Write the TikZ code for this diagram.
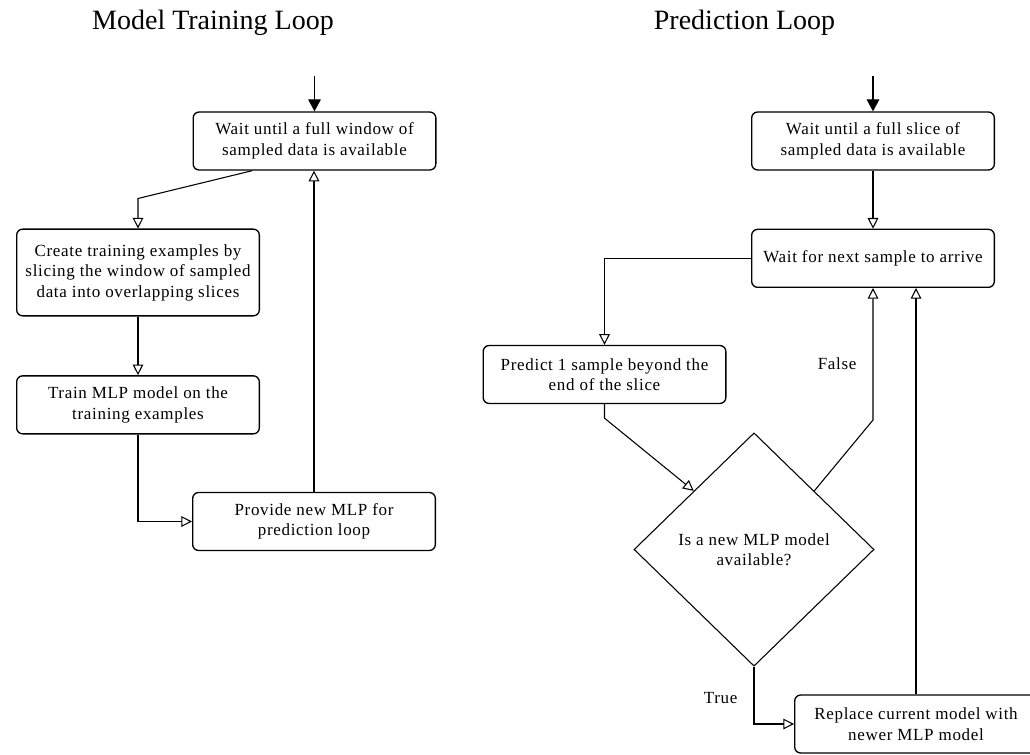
\documentclass[tikz,border=0pt]{standalone}
\usepackage{fontspec}
\setmainfont{Liberation Serif}
\newfontfamily\boxfont[LetterSpace=4]{Liberation Serif}
\usepackage{tikz}
\usetikzlibrary{arrows.meta, calc, positioning, shapes.geometric}

\begin{document}
\begin{tikzpicture}[x=0.75pt, y=-0.75pt,
  box/.style={draw, line width=1pt, rounded corners=4.5pt, fill=white,
              minimum width=182pt, minimum height=43.5pt, align=center, inner sep=2pt,
              font=\boxfont\fontsize{12.75}{15.4}\selectfont},
  decide/.style={diamond, draw, line width=0.8pt, minimum width=180pt, minimum height=175pt,
                 align=center, inner sep=0pt, font=\boxfont\fontsize{12.75}{15.4}\selectfont},
  title/.style={font=\fontsize{21}{25}\selectfont, anchor=base},
  lbl/.style={font=\boxfont\fontsize{12.75}{15.4}\selectfont, inner sep=0pt},
  arr/.style={-{Triangle[open, length=8pt, width=8pt]}, line width=0.8pt},
  inarr/.style={-{Triangle[length=9pt, width=9.5pt]}, line width=0.8pt}]
  \useasboundingbox (0,0) rectangle (1030,755);
  % titles
  \node[title] (ttrain) at (213,30) {Model Training Loop};
  \node[title] (tpred) at (744.5,30) {Prediction Loop};
  % training loop
  \node[box] (a) at (314.5,141) {Wait until a full window of\\sampled data is available};
  \node[box, minimum height=65pt] (b) at (138,272.5) {Create training examples by\\slicing the window of sampled\\data into overlapping slices};
  \node[box, below=44pt of b] (c) {Train MLP model on the\\training examples};
  \node[box] (d) at (314,521.5) {Provide new MLP for\\prediction loop};
  % prediction loop
  \node[box] (e) at (873,141) {Wait until a full slice of\\sampled data is available};
  \node[box, below=43.5pt of e] (f) {Wait for next sample to arrive};
  \node[box] (g) at (604.5,374.5) {Predict 1 sample beyond the\\end of the slice};
  \node[decide] (h) at (754,549.5) {Is a new MLP model\\available?};
  \node[box] (i) at (916,724) {Replace current model with\\newer MLP model};
  \coordinate (ina) at ($(a.north)+(0,-35)$);
  \coordinate (ine) at ($(e.north)+(0,-35)$);
  % connectors
  \draw[inarr] (ina) -- (a);
  \draw[inarr] (ine) -- (e);
  \draw[arr] ($(a.south west)!0.245!(a.south east)$) -- ($(b.north)+(0,-30)$) -- (b.north);
  \draw[arr] (b) -- (c);
  \draw[arr] (c.south) |- (d.west);
  \draw[arr] (d.north) -- (d.north |- a.south);
  \draw[arr] (e) -- (f);
  \draw[arr] (f.west) -| (g.north);
  \draw[arr] (g.south) -- ++(0,14) -- ($(h.north)!0.5!(h.west)$);
  \draw[arr] ($(h.north)!0.5!(h.east)$) -- ($(f.south)+(0,132)$)
    -- node[lbl, pos=0.43, left=12pt] {False} (f.south);
  \draw[arr] (h.south) |- node[lbl, pos=0.27, left=12pt] {True} (i.west);
  \draw[arr] (i.north) -- (i.north |- f.south);
\end{tikzpicture}
\end{document}
